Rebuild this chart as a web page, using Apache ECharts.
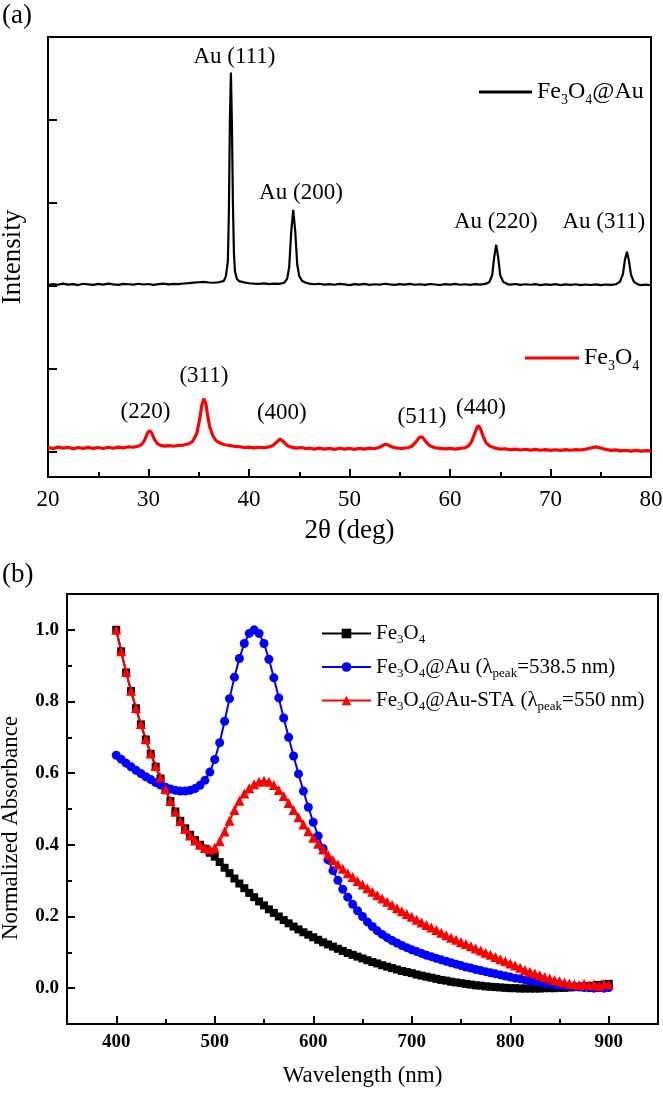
<!DOCTYPE html>
<html><head><meta charset="utf-8">
<script src="https://cdn.jsdelivr.net/npm/echarts@6/dist/echarts.min.js"></script>
<style>html,body{margin:0;padding:0;background:#fff}#c{width:663px;height:1093px}</style>
</head><body><div id="c"></div>
<script>
// ---------- Panel (a): XRD ----------
const xrdFe3O4Au = [[20,2012],[20.5,2025],[21,2016],[21.5,2030],[22,2018],[22.5,2024],[23,2012],[23.5,2028],[24,2020],[24.5,2014],[25,2026],[25.5,2018],[26,2030],[26.5,2021],[27,2014],[27.5,2026],[28,2022],[28.5,2017],[29,2028],[29.5,2019],[30,2025],[30.5,2015],[31,2023],[31.5,2030],[32,2020],[32.5,2027],[33,2024],[33.5,2031],[34,2036],[34.5,2042],[35,2046],[35.5,2050],[36,2043],[36.5,2040],[37,2046],[37.5,2062],[37.7,2120],[37.9,2300],[38.0,2900],[38.1,4000],[38.2,4571],[38.3,3950],[38.4,3000],[38.5,2400],[38.6,2180],[38.8,2085],[39.0,2060],[39.5,2045],[40,2034],[40.5,2030],[41,2027],[41.5,2032],[42,2024],[42.5,2030],[43,2027],[43.5,2040],[43.8,2090],[44.0,2230],[44.2,2650],[44.4,2918],[44.6,2660],[44.8,2260],[45.0,2120],[45.3,2060],[45.7,2038],[46,2030],[46.5,2022],[47,2028],[47.5,2018],[48,2024],[48.5,2016],[49,2026],[49.5,2020],[50,2012],[50.5,2024],[51,2018],[51.5,2027],[52,2015],[52.5,2022],[53,2018],[53.5,2028],[54,2020],[54.5,2014],[55,2024],[55.5,2018],[56,2026],[56.5,2016],[57,2022],[57.5,2015],[58,2025],[58.5,2019],[59,2013],[59.5,2024],[60,2018],[60.5,2026],[61,2016],[61.5,2022],[62,2015],[62.5,2024],[63,2018],[63.5,2026],[63.9,2045],[64.2,2130],[64.4,2350],[64.6,2497],[64.8,2340],[65.0,2130],[65.3,2050],[65.7,2024],[66,2018],[66.5,2025],[67,2014],[67.5,2022],[68,2016],[68.5,2024],[69,2012],[69.5,2020],[70,2015],[70.5,2023],[71,2012],[71.5,2020],[72,2014],[72.5,2022],[73,2011],[73.5,2019],[74,2013],[74.5,2021],[75,2012],[75.5,2019],[76,2014],[76.5,2022],[76.9,2050],[77.2,2140],[77.4,2310],[77.6,2412],[77.8,2310],[78.0,2140],[78.3,2050],[78.7,2020],[79,2012],[79.5,2018],[80,2010]];
const xrdFe3O4 = [[20,55],[20.5,42],[21,60],[21.5,48],[22,58],[22.5,40],[23,55],[23.5,45],[24,57],[24.5,44],[25,55],[25.5,43],[26,58],[26.5,46],[27,60],[27.5,50],[28,64],[28.5,58],[29,72],[29.3,90],[29.6,140],[29.9,230],[30.1,258],[30.3,235],[30.6,150],[30.9,100],[31.2,80],[31.6,72],[32,78],[32.5,70],[33,82],[33.5,85],[34,100],[34.4,130],[34.8,220],[35.1,400],[35.3,560],[35.5,643],[35.7,590],[35.9,430],[36.1,300],[36.4,200],[36.7,140],[37,115],[37.5,92],[38,80],[38.5,70],[39,66],[39.5,55],[40,60],[40.5,50],[41,58],[41.5,52],[42,62],[42.4,80],[42.8,125],[43.1,159],[43.4,130],[43.8,80],[44.2,60],[44.7,48],[45.2,55],[45.7,40],[46,50],[46.5,36],[47,48],[47.5,35],[48,45],[48.5,33],[49,46],[49.5,35],[50,44],[50.5,32],[51,45],[51.5,36],[52,48],[52.5,40],[53,58],[53.3,80],[53.6,96],[53.9,82],[54.3,58],[54.8,48],[55.3,45],[55.8,52],[56.2,70],[56.6,120],[56.9,170],[57.1,184],[57.3,175],[57.6,125],[58,75],[58.5,52],[59,45],[59.5,38],[60,44],[60.5,36],[61,45],[61.5,52],[61.9,80],[62.2,140],[62.5,240],[62.8,322],[63.0,290],[63.3,190],[63.6,110],[64,70],[64.5,48],[65,35],[65.5,40],[66,28],[66.5,36],[67,25],[67.5,34],[68,24],[68.5,32],[69,22],[69.5,30],[70,20],[70.5,28],[71,20],[71.5,30],[72,22],[72.5,30],[73,25],[73.5,35],[74,50],[74.5,63],[75,50],[75.5,32],[76,20],[76.5,26],[77,15],[77.5,22],[78,12],[78.5,20],[79,12],[79.5,18],[80,14]];
const xrdPeakLabels = [[38.55,4764,'Au (111)'],[45.17,3116,'Au (200)'],[64.56,2772,'Au (220)'],[75.31,2772,'Au (311)'],[35.51,920,'(311)'],[29.70,482,'(220)'],[43.27,470,'(400)'],[57.21,428,'(511)'],[63.08,535,'(440)']];
const xrdYTicks = [0,1000,2000,3000,4000];

// ---------- Panel (b): UV-Vis ----------
const uvWavelength = [400,405,410,415,420,425,430,435,440,445,450,455,460,465,470,475,480,485,490,495,500,505,510,515,520,525,530,535,540,545,550,555,560,565,570,575,580,585,590,595,600,605,610,615,620,625,630,635,640,645,650,655,660,665,670,675,680,685,690,695,700,705,710,715,720,725,730,735,740,745,750,755,760,765,770,775,780,785,790,795,800,805,810,815,820,825,830,835,840,845,850,855,860,865,870,875,880,885,890,895,900];
const uvFe3O4 = [1.000,0.940,0.881,0.829,0.781,0.736,0.694,0.654,0.618,0.585,0.553,0.522,0.493,0.467,0.446,0.428,0.413,0.400,0.389,0.378,0.367,0.352,0.336,0.321,0.306,0.292,0.279,0.266,0.254,0.242,0.231,0.220,0.210,0.200,0.190,0.181,0.172,0.164,0.156,0.149,0.142,0.135,0.128,0.122,0.116,0.110,0.104,0.098,0.093,0.088,0.083,0.078,0.073,0.069,0.064,0.060,0.056,0.052,0.048,0.045,0.042,0.038,0.035,0.032,0.029,0.026,0.023,0.021,0.018,0.016,0.014,0.012,0.010,0.008,0.007,0.005,0.004,0.003,0.002,0.001,0.000,0.000,-0.001,-0.001,-0.001,-0.001,-0.001,0.000,0.000,0.000,0.001,0.001,0.002,0.003,0.004,0.005,0.006,0.007,0.009,0.010,0.012];
const uvFe3O4Au = [0.650,0.639,0.628,0.618,0.608,0.599,0.590,0.582,0.574,0.567,0.561,0.556,0.552,0.550,0.550,0.552,0.557,0.566,0.580,0.603,0.638,0.685,0.745,0.808,0.868,0.920,0.962,0.990,1.000,0.990,0.962,0.918,0.866,0.810,0.754,0.700,0.648,0.598,0.550,0.505,0.463,0.425,0.390,0.358,0.328,0.301,0.276,0.254,0.234,0.216,0.200,0.185,0.172,0.160,0.150,0.141,0.133,0.126,0.119,0.113,0.107,0.102,0.097,0.092,0.088,0.083,0.079,0.075,0.071,0.067,0.063,0.059,0.056,0.052,0.049,0.046,0.043,0.040,0.037,0.034,0.031,0.028,0.026,0.023,0.021,0.018,0.016,0.014,0.012,0.010,0.008,0.007,0.005,0.004,0.003,0.002,0.001,0.000,0.001,0.000,0.002];
const uvFe3O4AuSTA = [1.000,0.940,0.882,0.830,0.782,0.737,0.695,0.655,0.620,0.588,0.555,0.522,0.492,0.466,0.444,0.426,0.412,0.400,0.391,0.387,0.392,0.410,0.437,0.467,0.497,0.523,0.543,0.558,0.569,0.576,0.579,0.576,0.567,0.553,0.536,0.517,0.497,0.477,0.457,0.438,0.420,0.403,0.387,0.372,0.358,0.345,0.333,0.321,0.310,0.299,0.289,0.279,0.269,0.259,0.250,0.241,0.232,0.223,0.215,0.207,0.199,0.191,0.183,0.176,0.169,0.162,0.155,0.148,0.141,0.135,0.129,0.123,0.117,0.111,0.105,0.099,0.093,0.087,0.081,0.075,0.069,0.063,0.057,0.051,0.046,0.041,0.036,0.031,0.027,0.023,0.019,0.016,0.013,0.011,0.009,0.012,0.008,0.011,0.006,0.012,0.010];
const uvXTicks = [400,500,600,700,800,900];
const uvXMinorTicks = [450,550,650,750,850];
const uvYTicks = [0,0.2,0.4,0.6,0.8,1.0];
const uvYMinorTicks = [0.1,0.3,0.5,0.7,0.9];

const FONT = 'Liberation Serif';
const pair = (xs, ys) => xs.map((x, i) => [x, ys[i]]);

const legendTextA = {
  'XRD Fe3O4@Au': '{n|Fe}{s|3}{n|O}{s|4}{n|@Au}',
  'XRD Fe3O4': '{n|Fe}{s|3}{n|O}{s|4}'
};
const legendTextB = {
  'Fe3O4': '{n|Fe}{s|3}{n|O}{s|4}',
  'Fe3O4@Au (λpeak=538.5 nm)': '{n|Fe}{s|3}{n|O}{s|4}{n|@Au (λ}{s|peak}{n|=538.5 nm)}',
  'Fe3O4@Au-STA (λpeak=550 nm)': '{n|Fe}{s|3}{n|O}{s|4}{n|@Au-STA (λ}{s|peak}{n|=550 nm)}'
};
function richA() {
  return {
    n: {fontFamily: FONT, fontSize: 24, color: '#000', lineHeight: 30},
    s: {fontFamily: FONT, fontSize: 14, color: '#000', lineHeight: 14, verticalAlign: 'bottom'}
  };
}
function richB() {
  return {
    n: {fontFamily: FONT, fontSize: 21, color: '#000', lineHeight: 26},
    s: {fontFamily: FONT, fontSize: 13, color: '#000', lineHeight: 13, verticalAlign: 'bottom'}
  };
}
const noBounds = {outerBoundsMode: 'none', containLabel: false};

const chart = echarts.init(document.getElementById('c'), null, {renderer: 'canvas'});
const option = {
  animation: false,
  backgroundColor: '#fff',
  textStyle: {fontFamily: FONT},
  graphic: [
    {type: 'text', left: 2, top: 2, style: {text: '(a)', font: '27px ' + FONT, fill: '#000'}},
    {type: 'text', left: 2, top: 561, style: {text: '(b)', font: '27px ' + FONT, fill: '#000'}}
  ],
  grid: [
    Object.assign({left: 48, top: 37, width: 603, height: 440, show: true, borderColor: '#000', borderWidth: 2, backgroundColor: 'transparent'}, noBounds),
    Object.assign({left: 67, top: 594, width: 591, height: 430, show: true, borderColor: '#000', borderWidth: 2, backgroundColor: 'transparent'}, noBounds)
  ],
  xAxis: [
    {type: 'value', gridIndex: 0, min: 20, max: 80, interval: 10, position: 'bottom',
     name: '2θ (deg)', nameLocation: 'middle', nameGap: 40,
     nameTextStyle: {fontFamily: FONT, fontSize: 27, color: '#000'},
     axisLine: {show: false, onZero: false},
     axisTick: {show: true, inside: true, length: 8, lineStyle: {color: '#000', width: 2}},
     minorTick: {show: true, splitNumber: 2, length: 5, lineStyle: {color: '#000', width: 2}},
     axisLabel: {fontFamily: FONT, fontSize: 23, color: '#000', margin: 11},
     splitLine: {show: false}},
    {type: 'value', gridIndex: 1, min: 350, max: 950, position: 'bottom',
     name: 'Wavelength (nm)', nameLocation: 'middle', nameGap: 40,
     nameTextStyle: {fontFamily: FONT, fontSize: 23, color: '#000'},
     axisLine: {show: false, onZero: false},
     axisTick: {show: true, inside: true, length: 8, customValues: uvXTicks, lineStyle: {color: '#000', width: 2}},
     axisLabel: {fontFamily: FONT, fontSize: 19, fontWeight: 'bold', color: '#000', margin: 9, customValues: uvXTicks},
     splitLine: {show: false}},
    {type: 'value', gridIndex: 1, min: 350, max: 950, position: 'bottom',
     axisLine: {show: false, onZero: false},
     axisTick: {show: true, inside: true, length: 5, customValues: uvXMinorTicks, lineStyle: {color: '#000', width: 2}},
     axisLabel: {show: false},
     splitLine: {show: false}}
  ],
  yAxis: [
    {type: 'value', gridIndex: 0, min: -300, max: 5000, position: 'left',
     name: 'Intensity', nameLocation: 'middle', nameGap: 22,
     nameTextStyle: {fontFamily: FONT, fontSize: 27, color: '#000'},
     axisLine: {show: false, onZero: false},
     axisTick: {show: true, inside: true, length: 9, customValues: xrdYTicks, lineStyle: {color: '#000', width: 2}},
     axisLabel: {show: false},
     splitLine: {show: false}},
    {type: 'value', gridIndex: 1, min: -0.1, max: 1.1, position: 'left',
     name: 'Normalized Absorbance', nameLocation: 'middle', nameGap: 45,
     nameTextStyle: {fontFamily: FONT, fontSize: 23, color: '#000', padding: [0, 38, 0, 0]},
     axisLine: {show: false, onZero: false},
     axisTick: {show: true, inside: true, length: 8, customValues: uvYTicks, lineStyle: {color: '#000', width: 2}},
     axisLabel: {fontFamily: FONT, fontSize: 19, fontWeight: 'bold', color: '#000', margin: 8, customValues: uvYTicks,
                 formatter: v => v.toFixed(1)},
     splitLine: {show: false}},
    {type: 'value', gridIndex: 1, min: -0.1, max: 1.1, position: 'left',
     axisLine: {show: false, onZero: false},
     axisTick: {show: true, inside: true, length: 5, customValues: uvYMinorTicks, lineStyle: {color: '#000', width: 2}},
     axisLabel: {show: false},
     splitLine: {show: false}}
  ],
  legend: [
    {data: [{name: 'XRD Fe3O4@Au', icon: 'rect'}], left: 474, top: 75, orient: 'vertical', itemWidth: 53, itemHeight: 3,
     formatter: n => legendTextA[n], textStyle: {rich: richA()}, selectedMode: false},
    {data: [{name: 'XRD Fe3O4', icon: 'rect'}], left: 520, top: 341, orient: 'vertical', itemWidth: 54, itemHeight: 3,
     formatter: n => legendTextA[n], textStyle: {rich: richA()}, selectedMode: false},
    {data: ['Fe3O4', 'Fe3O4@Au (λpeak=538.5 nm)', 'Fe3O4@Au-STA (λpeak=550 nm)'], left: 316, top: 618,
     orient: 'vertical', itemWidth: 49, itemHeight: 12, itemGap: 10,
     formatter: n => legendTextB[n], textStyle: {rich: richB()}, selectedMode: false}
  ],
  series: [
    {name: 'XRD Fe3O4@Au', type: 'line', xAxisIndex: 0, yAxisIndex: 0, data: xrdFe3O4Au, showSymbol: false, symbol: 'none',
     lineStyle: {color: '#000', width: 2.2}, itemStyle: {color: '#000'}},
    {name: 'XRD Fe3O4', type: 'line', xAxisIndex: 0, yAxisIndex: 0, data: xrdFe3O4, showSymbol: false, symbol: 'none',
     lineStyle: {color: '#ff0000', width: 3.2}, itemStyle: {color: '#ff0000'}},
    {name: 'peak labels', type: 'scatter', xAxisIndex: 0, yAxisIndex: 0, data: xrdPeakLabels, symbolSize: 1,
     itemStyle: {color: 'rgba(0,0,0,0)', opacity: 1}, silent: true,
     label: {show: true, position: 'inside', formatter: p => p.data[2], fontFamily: FONT, fontSize: 23, color: '#000', opacity: 1}},
    {name: 'Fe3O4', type: 'line', xAxisIndex: 1, yAxisIndex: 1, data: pair(uvWavelength, uvFe3O4),
     symbol: 'rect', symbolSize: 8, lineStyle: {color: '#000', width: 2}, itemStyle: {color: '#000'}},
    {name: 'Fe3O4@Au (λpeak=538.5 nm)', type: 'line', xAxisIndex: 1, yAxisIndex: 1, data: pair(uvWavelength, uvFe3O4Au),
     symbol: 'circle', symbolSize: 9, lineStyle: {color: '#0000ff', width: 2}, itemStyle: {color: '#0000ff'}},
    {name: 'Fe3O4@Au-STA (λpeak=550 nm)', type: 'line', xAxisIndex: 1, yAxisIndex: 1, data: pair(uvWavelength, uvFe3O4AuSTA),
     symbol: 'triangle', symbolSize: 10, lineStyle: {color: '#ff0000', width: 2}, itemStyle: {color: '#ff0000'}}
  ]
};
chart.setOption(option);
</script>
</body></html>
